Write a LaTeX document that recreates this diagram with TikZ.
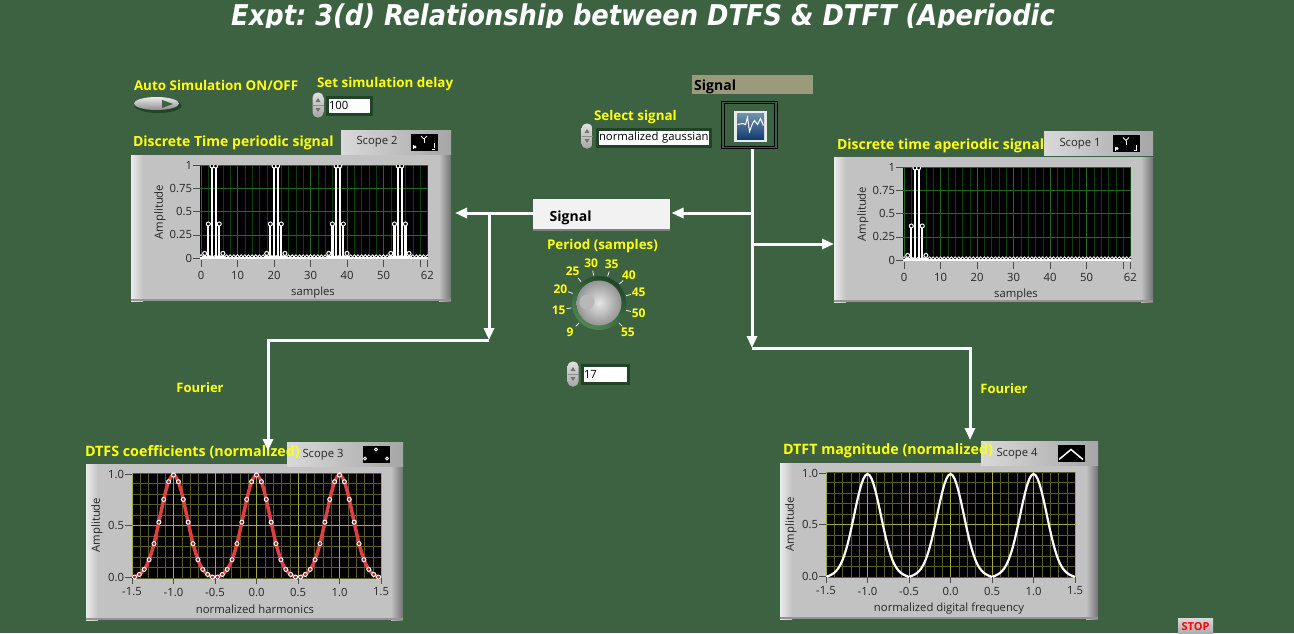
\documentclass[tikz,border=0pt]{standalone}
\usepackage{fontspec}
\setmainfont{Open Sans}
\newfontfamily\titlefont{DejaVu Sans Condensed}
\usetikzlibrary{arrows.meta,calc,positioning,shapes.geometric}
\definecolor{bgreen}{HTML}{3D6241}
\definecolor{dgreen}{HTML}{1F4526}
\definecolor{lyellow}{HTML}{FFFF14}
\definecolor{panelgray}{HTML}{C2C2C2}
\definecolor{gridgreen}{HTML}{1E6B1E}
\definecolor{gridgreens}{HTML}{0F3D0F}
\definecolor{gridyellow}{HTML}{A8A838}
\definecolor{gridyellows}{HTML}{5C5C22}
\definecolor{olivebar}{HTML}{9A9B7C}
\definecolor{curvered}{HTML}{E04040}
\definecolor{icontop}{HTML}{6F93AD}
\definecolor{iconbot}{HTML}{123A70}
\frenchspacing
\tikzset{
    declare function={dtmag(\f)=abs(cos(180*\f)+.37*cos(540*\f)+.05*cos(900*\f))/1.42;},
    lbl/.style = {
        text=lyellow, inner sep=0, outer sep=0,
        font=\fontsize{13}{15}\selectfont\bfseries
    },
    mlbl/.style = {
        lbl, anchor=west,
        font=\fontsize{13.4}{15}\selectfont\bfseries
    },
    blbl/.style = {
        lbl, anchor=west,
        font=\fontsize{14}{16}\selectfont\bfseries
    },
    pblock/.style = {
        fill=panelgray, rectangle,
        outer sep=0,
        inner sep=0
    },
    lgblock/.style = {
        left color=black!15, right color=black!35, rectangle,
        outer sep=0,
        inner sep=0,
        minimum height=24pt
    },
    plotarea/.style = {
        fill=black, rectangle, anchor=north west,
        outer sep=0,
        inner sep=0
    },
    ticktext/.style = {
        text=black!85, inner sep=0, outer sep=0,
        font=\fontsize{11.3}{14}\selectfont
    },
    field/.style = {
        fill=white, draw=dgreen, line width=3pt, rectangle, anchor=west,
        outer sep=0, inner xsep=2pt, inner ysep=0, text=black, align=left,
        font=\fontsize{11.3}{14}\selectfont
    },
    spin/.style = {
        rectangle, rounded corners=5pt, top color=black!12, bottom color=black!35,
        minimum width=11pt, minimum height=25pt, inner sep=0, outer sep=0
    },
    wire/.style = {draw=white, line width=3pt},
    awire/.style = {wire, -{Triangle[length=12pt,width=10pt]}}
}
\newcommand{\scopepanel}[5]{
\node[pblock, minimum width=#4pt, minimum height=#5pt](#1) at (#2,#3){};
\fill[left color=black!8, right color=panelgray] (#1.north west) rectangle ($(#1.south west)+(12,0)$);
\fill[left color=panelgray, right color=black!55] ($(#1.north east)+(-12,0)$) rectangle (#1.south east);
\fill[black!42] ($(#1.south west)+(0,-2)$) rectangle (#1.south east);
}
\newcommand{\scopelegend}[6]{
\node[lgblock, minimum width=#4pt](#1) at (#2,#3){};
\node[ticktext, right=15.5pt of #1.west](#1Text){#5};
\node[plotarea, anchor=east, minimum width=27pt, minimum height=17pt, left=13.5pt of #1.east](#1Icon){};
\begin{scope}[shift={(#1Icon.center)}, white, line width=1pt]
#6
\end{scope}
}
\newcommand{\spinner}[3]{
\node[spin](#1) at (#2,#3){};
\fill[black!55] ($(#1.center)+(-2.5,-3)$) -- ($(#1.center)+(2.5,-3)$) -- ($(#1.center)+(0,-7)$) -- cycle;
\fill[black!55] ($(#1.center)+(-2.5,3)$) -- ($(#1.center)+(2.5,3)$) -- ($(#1.center)+(0,7)$) -- cycle;
\draw[black!45] ($(#1.west)$) -- ($(#1.east)$);
}
\newcommand{\samplesplot}[4]{
\node[plotarea, minimum width=228pt, minimum height=93pt](#1) at (#2,#3){};
\begin{scope}[shift={(#1.north west)}]
\foreach \t in {0,2,...,62} \draw[gridgreens] ({\t*3.65+1},0) -- ({\t*3.65+1},93);
\foreach \t in {0,10,...,50} \draw[gridgreen] ({\t*3.65+1},0) -- ({\t*3.65+1},93);
\foreach \t in {0,23.25,46.5,69.75} \draw[gridgreen] (0,\t) -- (228,\t);
\begin{scope}
\clip (0,0) rectangle (228,93);
\foreach \t in {0,...,62} \draw[white, fill=black, line width=.8pt] ({\t*3.65+1},91.5) circle (1.7);
\draw[white, line width=1.6pt] (0,93) -- (228,93);
\foreach \k in {#4}{
\foreach \n/\v in {1/.05,2/.37,3/1,4/1,5/.37,6/.05}{
\draw[white, line width=2.2pt] ({(\n+\k)*3.65+1},93) -- ({(\n+\k)*3.65+1},{93-92*\v});
\draw[white, fill=black, line width=1pt] ({(\n+\k)*3.65+1},{93-92*\v}) circle (2);
}}
\end{scope}
\foreach \t/\l [count=\i] in {0/1,23.25/0.75,46.5/0.5,69.75/0.25,93/0}{
\draw[black!70] (-7,\t) -- (0,\t);
\node[ticktext, anchor=east](#1y\i) at (-8,\t){\l};
}
\foreach \t in {0,10,...,50,60,62} \draw[black!70] ({\t*3.65+1},95) -- ({\t*3.65+1},102);
\foreach \t in {0,10,...,50,62} \node[ticktext](#1x\t) at ({\t*3.65+1},110){\t};
\node[ticktext, rotate=90](#1Amp) at (-40,47){Amplitude};
\node[ticktext](#1Xlab) at (113,128){samples};
\end{scope}
}
\newcommand{\freqplot}[4]{
\node[plotarea, minimum width=249pt, minimum height=105pt](#1) at (#2,#3){};
\begin{scope}[shift={(#1.north west)}]
\foreach \t in {0,...,30} \draw[gridyellows] ({\t*8.3},0) -- ({\t*8.3},105);
\foreach \t in {0,...,10} \draw[gridyellows] (0,{\t*10.5}) -- (249,{\t*10.5});
\foreach \t in {0,5,...,30} \draw[gridyellow] ({\t*8.3},0) -- ({\t*8.3},105);
\draw[gridyellow] (0,52.5) -- (249,52.5);
#4
\foreach \t/\l [count=\i] in {1/1.0,52.5/0.5,104/0.0}{
\draw[black!70] (-7,\t) -- (0,\t);
\node[ticktext, anchor=east](#1y\i) at (-8,\t){\l};
}
\foreach \t/\l [count=\i] in {0/-1.5,41.5/-1.0,83/-0.5,124.5/0.0,166/0.5,207.5/1.0,249/1.5}{
\draw[black!70] (\t,105) -- (\t,111);
\node[ticktext](#1x\i) at (\t,119){\l};
}
\node[ticktext, rotate=90](#1Amp) at (-35,52){Amplitude};
\end{scope}
}

\begin{document}
\begin{tikzpicture}[x=1pt,y=-1pt]
\useasboundingbox (0,0) rectangle (1294,633);
\clip (0,0) rectangle (1294,633);
\fill[bgreen] (0,0) rectangle (1294,633);

\begin{scope}
\clip (0,0) rectangle (1294,27);
\node[text=white, inner sep=0, anchor=base, font=\titlefont\fontsize{28.6}{32}\selectfont\bfseries\itshape](Title) at (643,25.5){Expt: 3(d) Relationship between DTFS \& DTFT (Aperiodic};
\end{scope}

\scopepanel{PeriodicPanel}{291}{228}{320}{146}
\scopepanel{AperiodicPanel}{993.5}{229.5}{319}{145}
\scopepanel{DtfsPanel}{244.5}{542}{317}{156}
\scopepanel{DtftPanel}{939}{541}{318}{156}

\samplesplot{PeriodicPlot}{200}{165}{0,17,34,51}
\samplesplot{AperiodicPlot}{903}{167}{0}

\freqplot{DtfsPlot}{132}{473}{
\draw[curvered, line width=3.5pt] plot[domain=-1.5:1.5, samples=121] ({(\x+1.5)*83},{105-103*dtmag(\x)});
\foreach \k in {-25,...,25}
\draw[white, fill=curvered!60!black, line width=1pt] ({(\k/17+1.5)*83},{105-103*dtmag(\k/17)}) circle (2);
}
\freqplot{DtftPlot}{826}{472}{
\draw[white, line width=2.2pt] plot[domain=-1.5:1.5, samples=121] ({(\x+1.5)*83},{105-103*dtmag(\x)});
}
\node[ticktext](DtfsXlab) at (255,609.5){normalized harmonics};
\node[ticktext](DtftXlab) at (949,608.5){normalized digital frequency};

\scopelegend{Scope2}{396}{142}{110}{Scope 2}{
\draw (-11,3) -- (-11,7); \draw (-9,5) circle (1);
\draw (-3,-6) -- (0,-3) -- (3,-6); \draw (0,-3) -- (0,1);
\draw (10,1) -- (10,6); \draw (8,7) -- (11,7);
}
\scopelegend{Scope1}{1098.5}{143.5}{109}{Scope 1}{
\draw (-11,3) -- (-11,7); \draw (-9,5) circle (1);
\draw (-3,-6) -- (0,-3) -- (3,-6); \draw (0,-3) -- (0,1);
\draw (10,1) -- (10,6); \draw (8,7) -- (11,7);
}
\scopelegend{Scope3}{345}{454.5}{116}{Scope 3}{
\draw (-11,4) circle (1.5);
\draw (0,-5) circle (1.5);
\draw (11,4) circle (1.5);
}
\scopelegend{Scope4}{1039.5}{453.5}{117}{Scope 4}{
\draw[line width=1.5pt] (-12,6) -- (0,-4) -- (12,6);
}

\node[mlbl](AutoLbl) at (134,85){Auto Simulation ON/OFF};
\node[mlbl](DelayLbl) at (317,84){Set simulation delay};
\node[blbl](PeriodicLbl) at (133,143){Discrete Time periodic signal};
\node[blbl](AperiodicLbl) at (837,146){Discrete time aperiodic signal};
\node[blbl, font=\fontsize{14.3}{16}\selectfont\bfseries](DtfsLbl) at (85,452){DTFS coefficients (normalized)};
\node[blbl, font=\fontsize{14.3}{16}\selectfont\bfseries](DtftLbl) at (783,451){DTFT magnitude (normalized)};
\node[mlbl](SelectLbl) at (594,117){Select signal};
\node[mlbl](PeriodLbl) at (547,246){Period (samples)};
\node[lbl](FourierL) at (200,388){Fourier};
\node[lbl](FourierR) at (1004,389){Fourier};

\node[ellipse, minimum width=47pt, minimum height=15pt, fill=dgreen, inner sep=0](ToggleShade) at (158,105.5){};
\node[ellipse, minimum width=45pt, minimum height=13pt, top color=black!8, bottom color=black!45, inner sep=0](Toggle) at (156.5,103.5){};
\fill[bgreen] (162,100) -- (173,104) -- (162,108) -- cycle;

\spinner{DelaySpin}{318}{105}
\node[field, text width=40pt, minimum height=17pt](DelayField) at (327,105.5){100};
\spinner{SelectSpin}{587}{136}
\node[field, text width=109pt, minimum height=17pt](SelectField) at (597,138){\mbox{normalized gaussian}};
\spinner{PeriodSpin}{573}{374}
\node[field, text width=42pt, minimum height=18pt](PeriodField) at (582,374){17};

\node[rectangle, fill=olivebar, minimum width=121pt, minimum height=19pt, inner sep=0, outer sep=0](SignalBar) at (752.5,84){};
\node[anchor=west, inner sep=0, text=black, font=\fontsize{14}{16}\selectfont\bfseries, right=2pt of SignalBar.west, yshift=-2.5pt](SignalBarText){Signal};

\node[rectangle, draw=black, double=bgreen, double distance=1.5pt, line width=.8pt, minimum width=53pt, minimum height=45pt, inner sep=0, outer sep=1pt](SignalIcon) at (749.5,125){};
\node[rectangle, fill=black!8, minimum width=33pt, minimum height=31pt, inner sep=0](IconFrame) at (750.5,126.5){};
\node[rectangle, top color=icontop, bottom color=iconbot, minimum width=27pt, minimum height=26pt, inner sep=0](IconFace) at (750.5,126.5){};
\begin{scope}[shift={(IconFace.center)}]
\draw[white, line width=1pt] (-13,-2) -- (-8,-3) -- (-5,-2) -- (-3,-9) -- (-1,5) -- (2,-3) -- (4,-6) -- (7,-2) -- (10,-8) -- (13,-1);
\end{scope}

\node[rectangle, fill=black!5, minimum width=137pt, minimum height=32pt, inner sep=0, outer sep=0](SignalBox) at (601,215){};
\fill[black!50] (SignalBox.south west) rectangle ($(SignalBox.south east)+(0,-2)$);
\node[inner sep=0, text=black, font=\fontsize{14}{16}\selectfont\bfseries, right=17pt of SignalBox.west, yshift=-2.5pt](SignalText){Signal};

\node[circle, minimum size=54pt, inner sep=0, top color=dgreen, bottom color=green!25!gray!60!bgreen, shading angle=-30](KnobRing) at (599,303){};
\node[circle, minimum size=45pt, inner sep=0, inner color=black!10, outer color=black!42](Knob) at (599,303){};
\node[ellipse, minimum width=15pt, minimum height=15pt, inner sep=0, fill=black!28](KnobDimple) at (587,302){};
\foreach \a/\l [count=\i] in {225/9,190/15,160/20,130/25,101/30,72/35,43/40,15/45,-15/50,-45/55}{
\draw[white, line width=.7pt] ($(Knob.center)+(-\a:28)$) -- ($(Knob.center)+(-\a:33)$);
\node[lbl, font=\fontsize{12}{14}\selectfont\bfseries](KnobTick\i) at ($(Knob.center)+(-\a:41)$){\l};
}

\node[rectangle, top color=black!15, bottom color=black!35, minimum width=35pt, minimum height=18pt, inner sep=0, outer sep=0](StopBtn) at (1195.5,627){};
\node[text=red, inner sep=0, font=\fontsize{11}{13}\selectfont\bfseries](StopText) at (1195.5,627){STOP};

\coordinate (BusTop) at (752,213);
\coordinate (BusMid) at (752,244);
\coordinate (BusEnd) at (752,348);
\coordinate (DtftCorner) at (970,348);
\coordinate (DtftEnd) at (970,440);
\coordinate (TapTop) at (489,213);
\coordinate (TapEnd) at (489,340);
\coordinate (DtfsCorner) at (268,340);
\coordinate (DtfsEnd) at (268,451);

\draw[awire] (BusTop |- SignalIcon.south) -- (BusEnd);
\draw[awire, shorten >=2pt] (BusTop) -- (BusTop -| SignalBox.east);
\draw[awire] (BusMid) -- (BusMid -| AperiodicPanel.west);
\draw[awire, shorten >=4pt] (BusTop -| SignalBox.west) -- (BusTop -| PeriodicPanel.east);
\draw[awire] (TapTop) -- (TapEnd);
\draw[awire] (TapEnd) -- (DtfsCorner) -- (DtfsEnd);
\draw[awire] (BusEnd) -- (DtftCorner) -- (DtftEnd);

\end{tikzpicture}
\end{document}
